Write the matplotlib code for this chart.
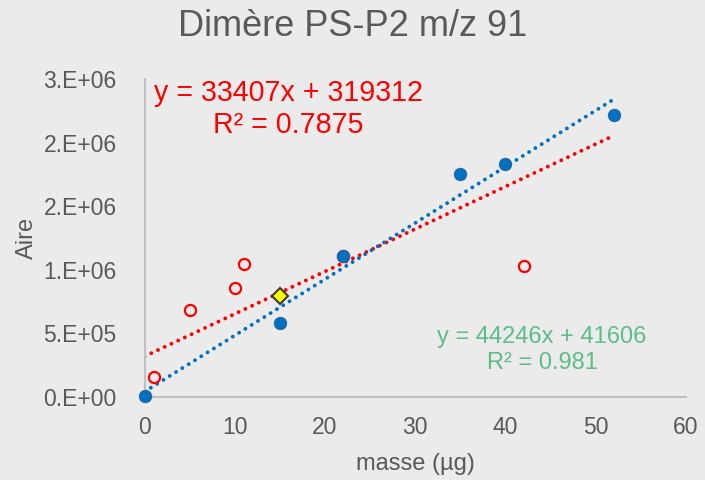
import matplotlib
matplotlib.use("Agg")
import matplotlib.pyplot as plt
import numpy as np
from matplotlib.ticker import FixedLocator

plt.rcParams['font.family'] = ['Liberation Sans', 'DejaVu Sans']

# Calibration series (filled blue)
blue_x = [0, 15, 22, 35, 40, 52]
blue_y = [5000, 583000, 1110000, 1753000, 1829000, 2218000]

# Other samples (open red)
red_x = [1, 5, 10, 11, 22, 42]
red_y = [155000, 683000, 858000, 1045000, 1110000, 1029000]

# Highlighted sample (yellow diamond)
diamond_x = [15]
diamond_y = [798000]

# Linear trendlines: slope, intercept
red_fit = [33407, 319312]
red_r2 = 0.7875
blue_fit = [44246, 41606]
blue_r2 = 0.981
fit_range = [0, 52]

x_ticks = [0, 10, 20, 30, 40, 50, 60]
y_ticks = [0, 500000, 1000000, 1500000, 2000000, 2500000]
y_tick_labels = ["0.E+00", "5.E+05", "1.E+06", "2.E+06", "2.E+06", "3.E+06"]

bg = "#ebebeb"
grey = "#595959"
blue = "#0070c0"
red = "#ff0000"
green = "#5cbd87"

W, H = 705, 480
fig = plt.figure(figsize=(W / 100, H / 100), dpi=100, facecolor=bg)
ax = fig.add_axes([0.205, 0.173, 0.768, 0.662], facecolor=bg)

xs = np.array(fit_range, dtype=float)
dot_style = (0, (0.01, 1.9))
ax.plot(xs, red_fit[0] * xs + red_fit[1], color=red, lw=2.8,
        linestyle=dot_style, dash_capstyle='round', zorder=2)
ax.plot(xs, blue_fit[0] * xs + blue_fit[1], color=blue, lw=2.8,
        linestyle=dot_style, dash_capstyle='round', zorder=2)

ax.plot(red_x, red_y, 'o', ms=8, mfc='none', mec=red, mew=1.6,
        zorder=3, clip_on=False)
ax.plot(blue_x, blue_y, 'o', ms=9, mfc=blue, mec='#2a5f9e', mew=0.6,
        zorder=4, clip_on=False)
ax.plot(diamond_x, diamond_y, 'D', ms=8, mfc='#ffff00', mec='#3a3a3a',
        mew=1.5, zorder=5, clip_on=False)

ax.set_xlim(0, 60)
ax.set_ylim(0, 2500000)
ax.xaxis.set_major_locator(FixedLocator(x_ticks))
ax.set_xticklabels([str(t) for t in x_ticks])
ax.yaxis.set_major_locator(FixedLocator(y_ticks))
ax.set_yticklabels(y_tick_labels)
ax.tick_params(axis='both', length=0, labelsize=16.5, labelcolor=grey)
ax.tick_params(axis='x', pad=14)
ax.tick_params(axis='y', pad=20)

for side in ('top', 'right'):
    ax.spines[side].set_visible(False)
for side in ('left', 'bottom'):
    ax.spines[side].set_color('#c0c0c0')
    ax.spines[side].set_linewidth(1.5)

ax.set_xlabel("masse (µg)", fontsize=17, color=grey, labelpad=10)
ax.set_ylabel("Aire", fontsize=17, color=grey, labelpad=4)

fig.text(0.5, 0.945, "Dimère PS-P2 m/z 91", ha='center', va='center',
         fontsize=26, color=grey)

# Trendline equations placed in figure pixel coordinates (origin bottom-left)
fig.text(288 / W, 1 - 109 / H, f"y = {red_fit[0]}x + {red_fit[1]}\nR² = {red_r2}",
         ha='center', va='center', fontsize=20.6, color=red, linespacing=1.2)
fig.text(542 / W, 1 - 350 / H, f"y = {blue_fit[0]}x + {blue_fit[1]}\nR² = {blue_r2}",
         ha='center', va='center', fontsize=17, color=green, linespacing=1.2)

fig.savefig("out.png", dpi=100, facecolor=bg)
